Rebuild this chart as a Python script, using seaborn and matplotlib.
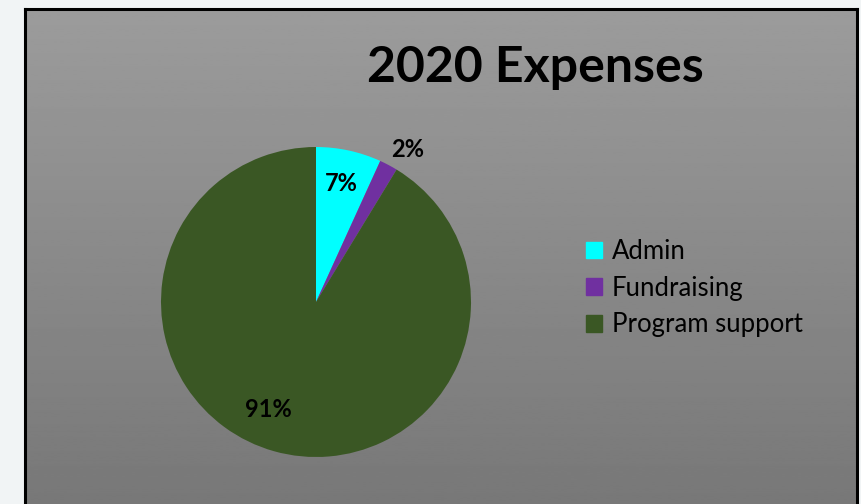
import numpy as np
import matplotlib
matplotlib.use("Agg")
import matplotlib.pyplot as plt
import seaborn as sns

categories = ["Admin", "Fundraising", "Program support"]
values = [6.8, 1.9, 91.3]
colors = ["#00FFFF", "#7030A0", "#3A5724"]
title = "2020 Expenses"

sns.set_theme(style="white")
plt.rcParams['font.family'] = ['Lato', 'DejaVu Sans']

W, H = 861, 504
fig = plt.figure(figsize=(W / 100, H / 100), dpi=100)
fig.patch.set_facecolor("#f1f4f5")

# background panel with gradient
bg = fig.add_axes([25 / W, 0, (857 - 25) / W, (H - 9) / H])
grad = np.linspace(0.61, 0.47, 256).reshape(-1, 1)
bg.imshow(grad, aspect="auto", cmap="gray", vmin=0, vmax=1,
          extent=[0, 1, 0, 1], origin="upper")
bg.set_xlim(0, 1)
bg.set_ylim(0, 1)
bg.set_xticks([])
bg.set_yticks([])
for side in ["left", "top", "right"]:
    bg.spines[side].set_color("black")
    bg.spines[side].set_linewidth(2.2)
bg.spines["bottom"].set_visible(False)

# pie
cx, cy, r = 316, 302, 155
ax = fig.add_axes([(cx - r) / W, (H - cy - r) / H, 2 * r / W, 2 * r / H])
ax.set_facecolor("none")
wedges, texts, autotexts = ax.pie(
    values, colors=colors, startangle=90, counterclock=False,
    autopct=lambda p: f"{p:.0f}%", pctdistance=0.78,
    wedgeprops=dict(linewidth=0),
    textprops=dict(fontsize=17, fontweight="bold", color="black"))
ax.set_xlim(-1, 1)
ax.set_ylim(-1, 1)
ax.set_aspect("auto")
ax.axis("off")

# adjust label placements like the original
adj = {1: (1.15, -3.0), 2: (0.76, -8.0)}
for i, (w, t) in enumerate(zip(wedges, autotexts)):
    if i in adj:
        d, dang = adj[i]
        ang = np.deg2rad((w.theta1 + w.theta2) / 2 + dang)
        t.set_position((d * np.cos(ang), d * np.sin(ang)))

fig.text(535 / W, 1 - 67 / H, title, fontsize=36, fontweight="bold",
         ha="center", va="center", color="black")

handles = [plt.Rectangle((0, 0), 1, 1, color=c) for c in colors]
leg = fig.legend(handles, categories, loc="upper left",
                 bbox_to_anchor=(563 / W, 1 - 216 / H), frameon=False,
                 fontsize=18.5, handlelength=0.63, handleheight=0.63,
                 handletextpad=0.38, labelspacing=0.45)
for t in leg.get_texts():
    t.set_color("black")

fig.savefig("out.png", dpi=100, facecolor=fig.get_facecolor())
